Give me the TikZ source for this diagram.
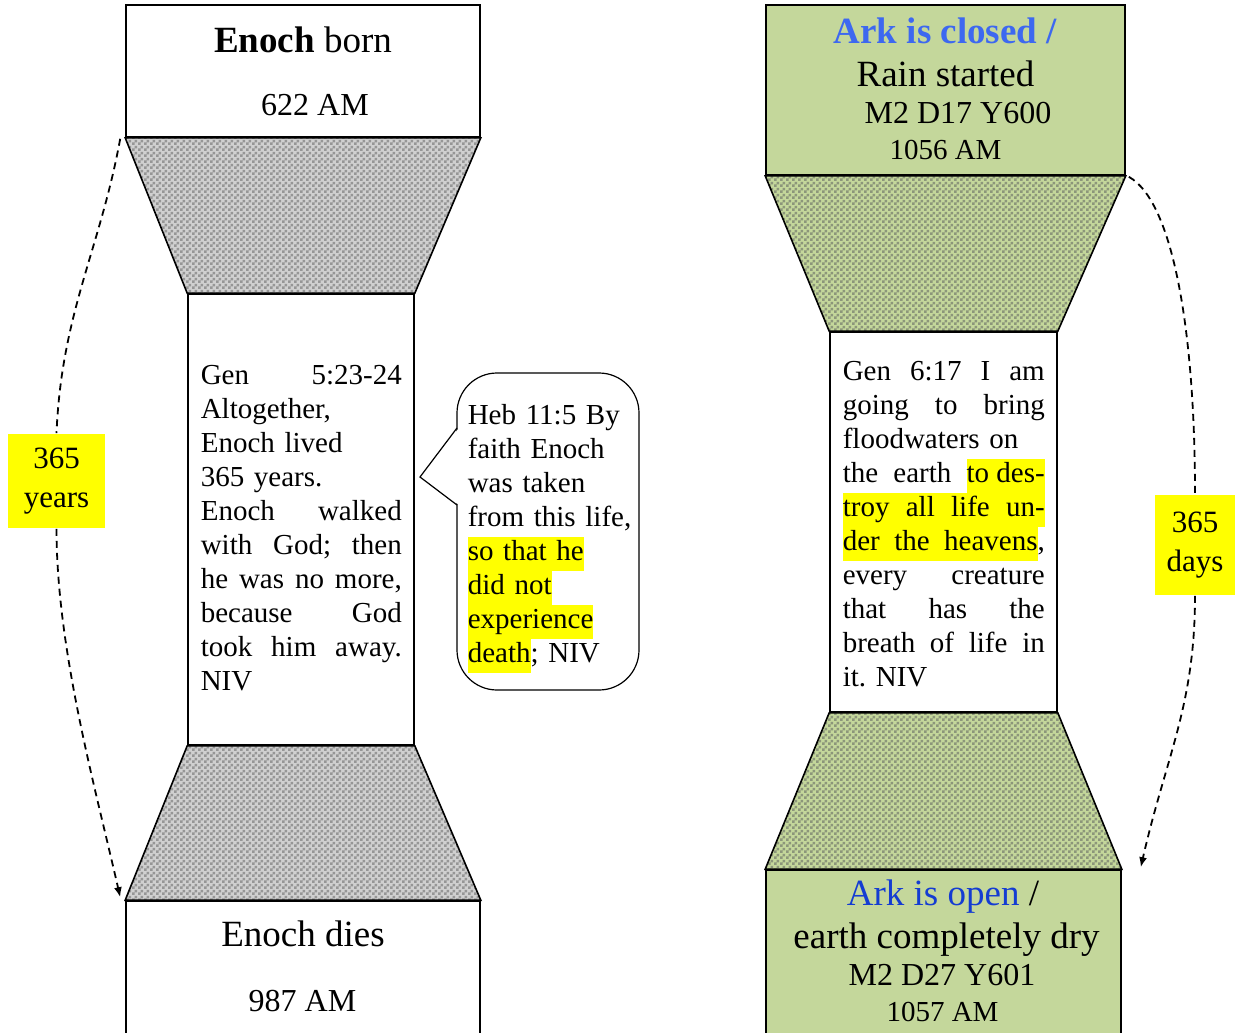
\documentclass[tikz,border=0pt]{standalone}
\usepackage{fontspec}
\setmainfont{Liberation Serif}
\usetikzlibrary{patterns,arrows.meta}

\definecolor{boxgreen}{RGB}{196,215,155}
\definecolor{closedblue}{RGB}{61,104,240}
\definecolor{openblue}{RGB}{20,60,210}
\definecolor{hlyellow}{RGB}{255,255,0}
\definecolor{necklight}{RGB}{208,208,208}
\definecolor{neckdark}{RGB}{150,150,150}
\definecolor{greendark}{RGB}{140,150,122}

% checker texture for the necks
\pgfdeclarepatternformonly{checker}{\pgfqpoint{0pt}{0pt}}{\pgfqpoint{6pt}{6pt}}{\pgfqpoint{6pt}{6pt}}{%
    \pgfpathrectangle{\pgfqpoint{0pt}{0pt}}{\pgfqpoint{3pt}{3pt}}%
    \pgfpathrectangle{\pgfqpoint{3pt}{3pt}}{\pgfqpoint{3pt}{3pt}}%
    \pgfusepath{fill}}

\setlength{\parindent}{0pt}
\setlength{\fboxsep}{0pt}
% one justified line, one highlighted piece
\newcommand{\jl}[1]{\makebox[\hsize][s]{\spaceskip=.25em plus 1fil\relax\strut #1}}
\newcommand{\hlw}[1]{\colorbox{hlyellow}{\strut #1}}

\begin{document}
\begin{tikzpicture}[x = 1pt,
                    y = -1pt,
                    line width = 1.6pt,
                    box/.style = {draw, rectangle, inner sep = 0pt},
                    greenbox/.style = {box, fill = boxgreen},
                    grayneck/.style = {draw, preaction = {fill = necklight}, pattern = checker, pattern color = neckdark},
                    greenneck/.style = {draw, preaction = {fill = boxgreen}, pattern = checker, pattern color = greendark},
                    bigtext/.style = {anchor = base, inner sep = 0pt, font = \fontsize{37}{40}\selectfont},
                    midtext/.style = {anchor = base, inner sep = 0pt, font = \fontsize{32}{36}\selectfont},
                    smalltext/.style = {anchor = base, inner sep = 0pt, font = \fontsize{29}{34}\selectfont},
                    verse/.style = {anchor = north west, inner sep = 0pt, align = left, font = \fontsize{29}{34}\selectfont\frenchspacing},
                    yeartag/.style = {fill = hlyellow, inner sep = 0pt, align = center, font = \fontsize{31}{39}\selectfont},
                    spanline/.style = {line width = 1.8pt, dash pattern = on 7pt off 5pt}]

    \useasboundingbox (0,0) rectangle (1235,1033);

    % Enoch
    \node[box, minimum width = 354, minimum height = 132] (EB) at (303,71) {};
    \node[box, minimum width = 226, minimum height = 451] (EW) at (301,519.5) {};
    \node[box, minimum width = 354, minimum height = 140] (ED) at (303,971) {};

    % flood
    \node[greenbox, minimum width = 359, minimum height = 170] (AC) at (945.5,90) {};
    \node[box, minimum width = 227, minimum height = 380] (GF) at (943.5,522) {};
    \node[greenbox, minimum width = 355, minimum height = 171] (AO) at (943.5,955.5) {};

    \foreach \u/\l/\s in {EB/EW/grayneck,
                          EW/ED/grayneck,
                          AC/GF/greenneck,
                          GF/AO/greenneck}
    {
        \path[\s] (\u.south west) -- (\u.south east) -- (\l.north east) -- (\l.north west) -- cycle;
    }

    \node[bigtext] (EB1) at (303,53) {\textbf{Enoch} born};
    \node[midtext] (EB2) at (315,115) {622 AM};
    \node[bigtext] (ED1) at (303,946) {Enoch dies};
    \node[midtext] (ED2) at (302.5,1011) {987 AM};

    \node[bigtext, text = closedblue] (AC1) at (945.5,44) {\textbf{Ark is closed /}};
    \node[bigtext] (AC2) at (945.5,86) {Rain started};
    \node[midtext] (AC3) at (958,124) {M2 D17 Y600};
    \node[smalltext] (AC4) at (945.5,159) {1056 AM};

    \node[bigtext] (AO1) at (943,905) {{\color{openblue}Ark is open} /};
    \node[bigtext] (AO2) at (946.5,948) {earth completely dry};
    \node[midtext] (AO3) at (942,985) {M2 D27 Y601};
    \node[smalltext] (AO4) at (942.5,1021) {1057 AM};

    \node[verse, text width = 201] (EWt) at (200,360) {%
        \jl{Gen 5:23-24}\\
        \strut Altogether,\\
        Enoch lived\\
        365 years.\\
        \jl{Enoch walked}\\
        \jl{with God; then}\\
        \jl{he was no more,}\\
        \jl{because God}\\
        \jl{took him away.}\\
        NIV};

    \node[verse, text width = 202] (GFt) at (842,356) {%
        \jl{Gen 6:17 I am}\\
        \jl{going to bring}\\
        \strut floodwaters on\\
        \jl{the earth \hlw{to des-}}\\
        \hlw{\jl{troy all life un-}}\\
        \jl{\hlw{\makebox[\dimexpr\hsize-.25em\relax][s]{der the heavens}},}\\
        \jl{every creature}\\
        \jl{that has the}\\
        \jl{breath of life in}\\
        \strut it. NIV};

    % speech bubble
    \node[draw, line width = 1.2pt, rounded corners = 40, minimum width = 182, minimum height = 317] (HB) at (548,531.5) {};
    \coordinate (HBtip) at (420,477);
    \coordinate (HBa) at (457,428);
    \coordinate (HBb) at (457,505);
    \fill[white] ([xshift = 2]HBa) -- (HBtip) -- ([xshift = 2]HBb) -- cycle;
    \draw[line width = 1.2pt] (HBa) -- (HBtip) -- (HBb);
    \node[verse, text width = 172] (HBt) at (467,400) {%
        \strut Heb 11:5 By\\
        faith Enoch\\
        was taken\\
        from this life,\\
        \hlw{so that he}\\
        \hlw{did not}\\
        \hlw{experience}\\
        \hlw{death}; NIV};

    % spans
    \node[yeartag, minimum width = 97, minimum height = 94] (YR) at (56.5,481) {365\\years};
    \node[yeartag, minimum width = 80, minimum height = 100] (DY) at (1195,545) {365\\days};

    \draw[spanline] ([shift = {(-5,1)}]EB.south west) .. controls +(-20,110) and +(5,-120) .. (YR.north);
    \draw[spanline, -{Latex[length = 10pt, width = 8pt]}] (YR.south) .. controls +(0,120) and +(-25,-110) .. ([shift = {(-5,-3)}]ED.north west);
    \draw[spanline] ([shift = {(3,1)}]AC.south east) .. controls +(45,25) and +(0,-160) .. (DY.north);
    \draw[spanline, -{Latex[length = 10pt, width = 8pt]}] (DY.south) .. controls +(0,110) and +(25,-110) .. ([shift = {(19,-2)}]AO.north east);
\end{tikzpicture}
\end{document}
